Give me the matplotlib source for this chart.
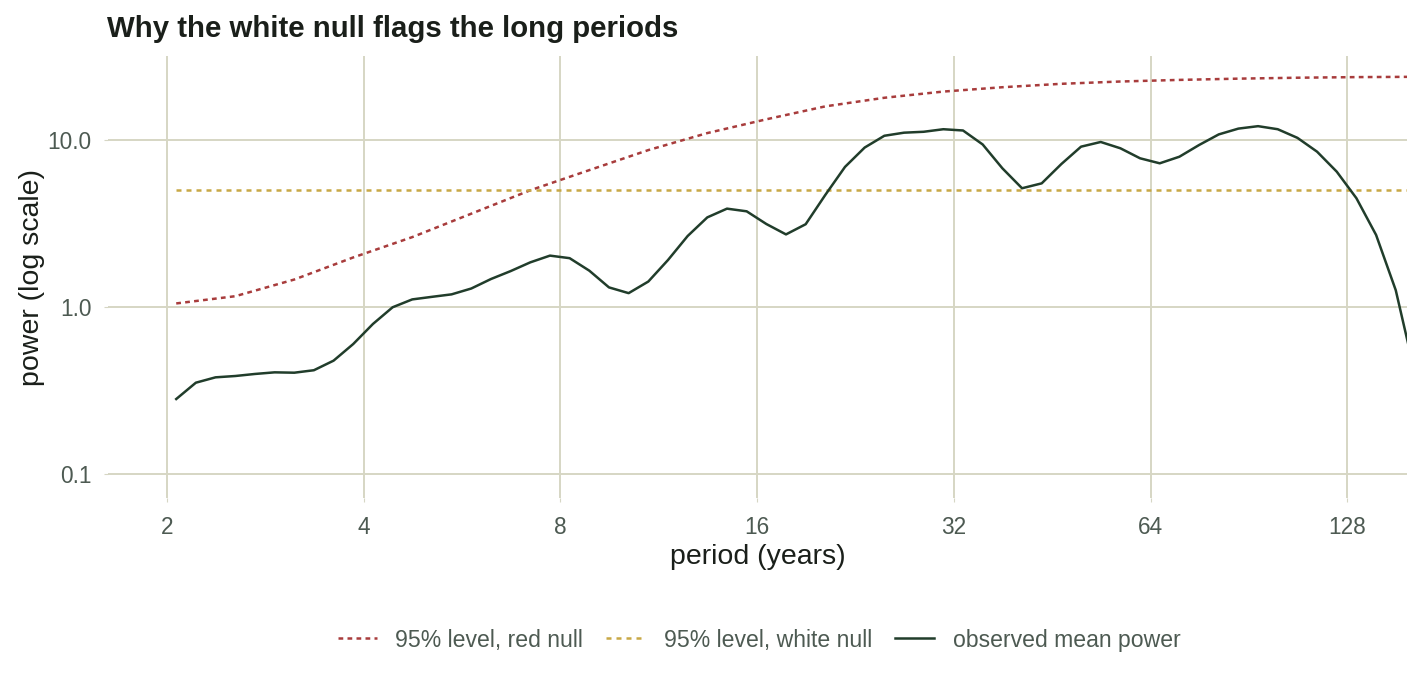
import matplotlib.pyplot as plt
from matplotlib.ticker import FixedLocator, NullLocator, FixedFormatter

plt.rcParams['font.family'] = ['Liberation Sans', 'DejaVu Sans']

# period grid of the observed spectrum (years)
periods = [2.066, 2.214, 2.373, 2.544, 2.726, 2.922, 3.132, 3.356, 3.597, 3.855,
           4.132, 4.429, 4.746, 5.087, 5.452, 5.844, 6.263, 6.713, 7.194, 7.711,
           8.264, 8.857, 9.493, 10.174, 10.905, 11.687, 12.526, 13.425, 14.389, 15.422,
           16.528, 17.714, 18.986, 20.348, 21.809, 23.374, 25.052, 26.850, 28.777, 30.843,
           33.056, 35.429, 37.972, 40.697, 43.618, 46.749, 50.104, 53.700, 57.554, 61.685,
           66.112, 70.857, 75.943, 81.394, 87.236, 93.497, 100.208, 107.400, 115.108, 123.370,
           132.224, 141.715, 151.886, 162.787]

observed = [0.281, 0.352, 0.379, 0.386, 0.397, 0.406, 0.404, 0.418, 0.477, 0.600,
            0.791, 0.996, 1.11, 1.15, 1.19, 1.29, 1.47, 1.64, 1.85, 2.03,
            1.96, 1.65, 1.31, 1.21, 1.42, 1.91, 2.66, 3.44, 3.88, 3.74,
            3.14, 2.72, 3.13, 4.69, 6.9, 9.01, 10.6, 11.06, 11.2, 11.6,
            11.4, 9.4, 6.77, 5.14, 5.50, 7.18, 9.12, 9.73, 8.92, 7.77,
            7.25, 7.94, 9.33, 10.8, 11.7, 12.1, 11.6, 10.3, 8.51, 6.46,
            4.48, 2.70, 1.26, 0.39]

# red-noise 95% level (every third period)
red_periods = [2.066, 2.544, 3.132, 3.855, 4.746, 5.844, 7.194, 8.857, 10.905, 13.425,
               16.528, 20.348, 25.052, 30.843, 37.972, 46.749, 57.554, 70.857, 87.236,
               107.400, 132.224, 162.787]
red_level = [1.05, 1.16, 1.46, 1.98, 2.62, 3.62, 5.0, 6.6, 8.7, 11.0,
             13.3, 15.9, 17.9, 19.5, 20.7, 21.7, 22.4, 22.9, 23.3, 23.6, 23.8, 23.9]

white_level = 5.05

x_ticks = [2, 4, 8, 16, 32, 64, 128]
x_labels = ['2', '4', '8', '16', '32', '64', '128']
y_ticks = [0.1, 1.0, 10.0]
y_labels = ['0.1', '1.0', '10.0']

grid_col = '#d6d6c4'
red_col = '#a83c3c'
gold_col = '#c8a845'
green_col = '#213d2b'
tick_col = '#4d5a52'
text_col = '#1a1f1a'

fig = plt.figure(figsize=(14.2, 6.91), dpi=100)
ax = fig.add_axes([108 / 1420, 1 - 498 / 691, (1407 - 108) / 1420, (498 - 56) / 691])

ax.plot(red_periods, red_level, color=red_col, lw=1.8, dashes=(1.9, 1.7),
        label='95% level, red null')
ax.plot([periods[0], periods[-1]], [white_level, white_level], color=gold_col, lw=1.8,
        dashes=(2.0, 2.0), label='95% level, white null')
ax.plot(periods, observed, color=green_col, lw=1.8, label='observed mean power')

ax.set_xscale('log', base=2)
ax.set_yscale('log')
ax.set_xlim(2 ** 0.700, 2 ** 7.304)
ax.set_ylim(10 ** -1.144, 10 ** 1.503)

ax.xaxis.set_major_locator(FixedLocator(x_ticks))
ax.xaxis.set_major_formatter(FixedFormatter(x_labels))
ax.xaxis.set_minor_locator(NullLocator())
ax.yaxis.set_major_locator(FixedLocator(y_ticks))
ax.yaxis.set_major_formatter(FixedFormatter(y_labels))
ax.yaxis.set_minor_locator(NullLocator())

ax.grid(True, color=grid_col, lw=1.4)
ax.set_axisbelow(True)
for s in ax.spines.values():
    s.set_visible(False)
ax.tick_params(axis='both', length=3, width=0.8, color=grid_col, labelcolor=tick_col,
               labelsize=16.3)
ax.tick_params(axis='x', pad=10)
ax.tick_params(axis='y', pad=9)

fig.text(757.5 / 1420, 1 - 557 / 691, 'period (years)', ha='center', va='center',
         fontsize=20.5, color=text_col)
fig.text(32 / 1420, 1 - 277 / 691, 'power (log scale)', ha='center', va='center',
         rotation=90, fontsize=20.5, color=text_col)
fig.text(107 / 1420, 1 - 37 / 691, 'Why the white null flags the long periods',
         ha='left', va='baseline', fontsize=21.2, fontweight='bold', color=text_col)

leg = fig.legend(loc='center', bbox_to_anchor=(759 / 1420, 1 - 640 / 691), ncol=3,
                 frameon=False, fontsize=16.6, handlelength=1.7, handletextpad=0.8,
                 columnspacing=1.0)
for t in leg.get_texts():
    t.set_color(tick_col)

fig.savefig('out.png', dpi=100)
